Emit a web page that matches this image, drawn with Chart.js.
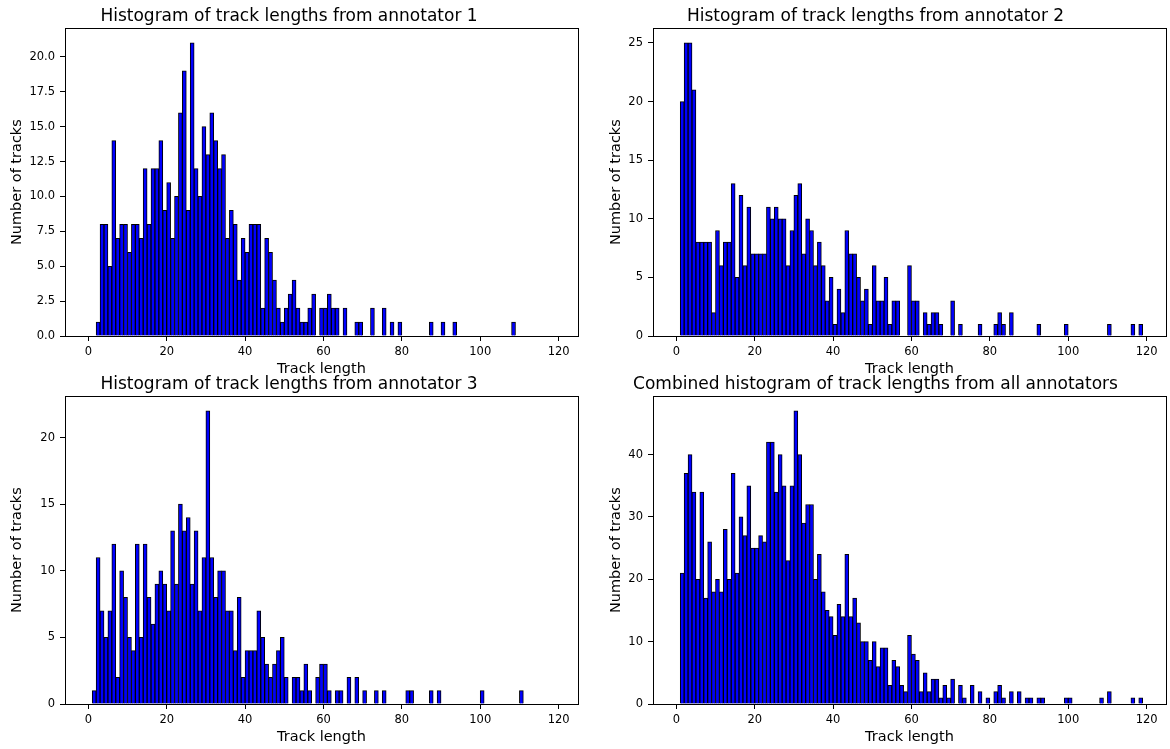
<!DOCTYPE html>
<html>
<head>
<meta charset="utf-8">
<title>Track length histograms</title>
<script src="https://cdn.jsdelivr.net/npm/chart.js@4.4.1/dist/chart.umd.min.js"></script>
<style>
  body { margin: 0; background: #fff; }
  #figure { position: relative; width: 1170px; height: 749px; overflow: hidden; }
  #figure canvas { position: absolute; }
</style>
</head>
<body>
<div id="figure">
  <canvas id="hist1" width="585" height="380" style="left:0px;top:0px"></canvas>
  <canvas id="hist2" width="585" height="380" style="left:585px;top:0px"></canvas>
  <canvas id="hist3" width="585" height="380" style="left:0px;top:368px"></canvas>
  <canvas id="hist4" width="585" height="380" style="left:585px;top:368px"></canvas>
</div>
<script>
// Histogram bins are one unit wide, first bin is [1, 2)
const binStart = 1;

const annotator1 = [
  0, 1, 8, 8, 5, 14, 7, 8, 8, 6,
  8, 8, 7, 12, 8, 12, 12, 14, 9, 11,
  7, 10, 16, 19, 9, 21, 12, 10, 15, 13,
  16, 14, 12, 13, 7, 9, 8, 4, 7, 6,
  8, 8, 8, 2, 7, 6, 4, 2, 1, 2,
  3, 4, 2, 1, 1, 2, 3, 0, 2, 2,
  3, 2, 2, 0, 2, 0, 0, 1, 1, 0,
  0, 2, 0, 0, 2, 0, 1, 0, 1, 0,
  0, 0, 0, 0, 0, 0, 1, 0, 0, 1,
  0, 0, 1, 0, 0, 0, 0, 0, 0, 0,
  0, 0, 0, 0, 0, 0, 0, 1, 0, 0,
  0, 0, 0, 0, 0, 0, 0, 0
];

const annotator2 = [
  20, 25, 25, 21, 8, 8, 8, 8, 2, 9,
  6, 8, 8, 13, 5, 12, 6, 11, 7, 7,
  7, 7, 11, 10, 11, 10, 10, 6, 9, 12,
  13, 7, 10, 9, 6, 8, 6, 3, 5, 1,
  4, 2, 9, 7, 7, 5, 3, 4, 1, 6,
  3, 3, 5, 1, 3, 3, 0, 0, 6, 3,
  3, 0, 2, 1, 2, 2, 1, 0, 0, 3,
  0, 1, 0, 0, 0, 0, 1, 0, 0, 0,
  1, 2, 1, 0, 2, 0, 0, 0, 0, 0,
  0, 1, 0, 0, 0, 0, 0, 0, 1, 0,
  0, 0, 0, 0, 0, 0, 0, 0, 0, 1,
  0, 0, 0, 0, 0, 1, 0, 1
];

const annotator3 = [
  1, 11, 7, 5, 7, 12, 2, 10, 8, 5,
  4, 12, 5, 12, 8, 6, 9, 10, 9, 7,
  13, 9, 15, 13, 14, 9, 13, 7, 11, 22,
  11, 8, 10, 10, 7, 7, 4, 8, 2, 4,
  4, 4, 7, 5, 3, 2, 3, 4, 5, 2,
  0, 2, 2, 1, 3, 1, 0, 2, 3, 3,
  1, 0, 1, 1, 0, 2, 0, 2, 0, 1,
  0, 0, 1, 0, 1, 0, 0, 0, 0, 0,
  1, 1, 0, 0, 0, 0, 1, 0, 1, 0,
  0, 0, 0, 0, 0, 0, 0, 0, 0, 1,
  0, 0, 0, 0, 0, 0, 0, 0, 0, 1,
  0, 0, 0, 0, 0, 0, 0, 0
];

const allAnnotators = [
  21, 37, 40, 34, 20, 34, 17, 26, 18, 20,
  18, 28, 20, 37, 21, 30, 27, 35, 25, 25,
  27, 26, 42, 42, 34, 40, 35, 23, 35, 47,
  40, 29, 32, 32, 20, 24, 18, 15, 14, 11,
  16, 14, 24, 14, 17, 13, 10, 10, 7, 10,
  6, 9, 9, 3, 7, 6, 3, 2, 11, 8,
  7, 2, 5, 2, 4, 4, 1, 3, 1, 4,
  0, 3, 1, 0, 3, 0, 2, 0, 1, 0,
  2, 3, 1, 0, 2, 0, 2, 0, 1, 1,
  0, 1, 1, 0, 0, 0, 0, 0, 1, 1,
  0, 0, 0, 0, 0, 0, 0, 1, 0, 2,
  0, 0, 0, 0, 0, 1, 0, 1
];

const xTicks = [0, 20, 40, 60, 80, 100, 120];
const yTicks1 = [0, 2.5, 5, 7.5, 10, 12.5, 15, 17.5, 20];
const yTicks2 = [0, 5, 10, 15, 20, 25];
const yTicks3 = [0, 5, 10, 15, 20];
const yTicks4 = [0, 10, 20, 30, 40];

const FONT = 'DejaVu Sans';

// box around the plot area, like matplotlib spines
const frame = {
  id: 'frame',
  afterDatasetsDraw(chart) {
    const { ctx, chartArea: a } = chart;
    ctx.save();
    ctx.strokeStyle = '#000';
    ctx.lineWidth = 1;
    ctx.strokeRect(Math.round(a.left) + 0.5, Math.round(a.top) + 0.5,
      Math.round(a.right - a.left), Math.round(a.bottom - a.top));
    ctx.restore();
  }
};

function makeHist(id, title, counts, opts) {
  const points = counts.map((c, i) => ({ x: binStart + i + 0.5, y: c }));
  new Chart(document.getElementById(id), {
    type: 'bar',
    data: {
      datasets: [{
        data: points,
        backgroundColor: '#0000ff',
        borderColor: '#000',
        borderWidth: { top: 1, left: 1, right: 1, bottom: 0 },
        borderSkipped: 'start',
        inflateAmount: 0.35,
        barPercentage: 1,
        categoryPercentage: 1
      }]
    },
    plugins: [frame],
    options: {
      responsive: false,
      animation: false,
      layout: { padding: { left: 0, right: opts.rightPad, top: 0, bottom: 0 } },
      plugins: {
        legend: { display: false },
        tooltip: { enabled: false },
        title: {
          display: true,
          text: title,
          color: '#000',
          font: { family: FONT, size: 17, weight: 'normal' },
          padding: { top: 6.6, bottom: 1.3 }
        }
      },
      scales: {
        x: {
          type: 'linear',
          min: -5.95,
          max: 124.95,
          offset: false,
          afterBuildTicks: axis => { axis.ticks = xTicks.map(v => ({ value: v })); },
          afterFit: axis => { axis.height = 44; },
          grid: { display: true, drawOnChartArea: false, drawTicks: true, tickLength: 5, color: '#000', offset: false },
          border: { display: false },
          ticks: { color: '#000', padding: 4, maxRotation: 0, font: { family: FONT, size: 11.5 } },
          title: {
            display: true,
            text: 'Track length',
            color: '#000',
            font: { family: FONT, size: 14.5 },
            padding: { top: 0, bottom: 2.3 }
          }
        },
        y: {
          min: 0,
          max: opts.yMax,
          afterBuildTicks: axis => { axis.ticks = opts.yTicks.map(v => ({ value: v })); },
          afterFit: axis => { axis.width = opts.yWidth; },
          grid: { display: true, drawOnChartArea: false, drawTicks: true, tickLength: 5, color: '#000' },
          border: { display: false },
          ticks: {
            color: '#000',
            padding: 5,
            font: { family: FONT, size: 11.5 },
            callback: v => v.toFixed(opts.decimals)
          },
          title: {
            display: true,
            text: 'Number of tracks',
            color: '#000',
            font: { family: FONT, size: 14.5 },
            padding: { top: opts.yTitlePad, bottom: 0 }
          }
        }
      }
    }
  });
}

makeHist('hist1', 'Histogram of track lengths from annotator 1', annotator1,
  { yMax: 22.05, yTicks: yTicks1, decimals: 1, yWidth: 65, yTitlePad: 8.3, rightPad: 7 });
makeHist('hist2', 'Histogram of track lengths from annotator 2', annotator2,
  { yMax: 26.25, yTicks: yTicks2, decimals: 0, yWidth: 68, yTitlePad: 22.3, rightPad: 4 });
makeHist('hist3', 'Histogram of track lengths from annotator 3', annotator3,
  { yMax: 23.1, yTicks: yTicks3, decimals: 0, yWidth: 65, yTitlePad: 8.3, rightPad: 7 });
makeHist('hist4', 'Combined histogram of track lengths from all annotators', allAnnotators,
  { yMax: 49.35, yTicks: yTicks4, decimals: 0, yWidth: 68, yTitlePad: 22.3, rightPad: 4 });
</script>
</body>
</html>
